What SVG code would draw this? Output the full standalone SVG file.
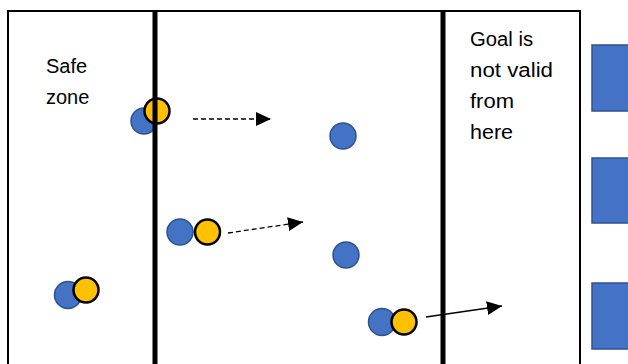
<svg xmlns="http://www.w3.org/2000/svg" width="628" height="364" viewBox="0 0 628 364">
  <style>
    .label { font-family: "Liberation Sans", Arial, sans-serif; font-size: 20px; fill: #000; }
    .blue { fill: #4472C4; stroke: #2F528F; stroke-width: 1.5; }
    .yellow { fill: #FFC000; stroke: #000; stroke-width: 2.5; }
    .wall { stroke: #000; stroke-width: 5; }
    .move { fill: none; stroke: #000; stroke-width: 1.3; marker-end: url(#head); }
    .dashed { stroke-dasharray: 5 3; }
  </style>
  <defs>
    <marker id="head" markerUnits="userSpaceOnUse" markerWidth="16" markerHeight="15" refX="15" refY="7" orient="auto">
      <path d="M0,0 L15,7 L0,14 Z" fill="#000" stroke="none"/>
    </marker>
  </defs>

  <rect width="628" height="364" fill="#fff"/>

  <!-- field outline (open at the bottom) -->
  <g id="field">
    <path d="M8,370 V11 H580 V370" fill="none" stroke="#000" stroke-width="2"/>
  </g>

  <!-- goals on the right edge -->
  <g id="goal-top"><rect class="blue" x="592" y="45" width="40" height="66"/></g>
  <g id="goal-middle"><rect class="blue" x="592" y="158" width="40" height="65"/></g>
  <g id="goal-bottom"><rect class="blue" x="592" y="283" width="40" height="66"/></g>

  <!-- zone labels -->
  <g id="safe-zone-label">
    <text class="label" x="46" y="73">Safe</text>
    <text class="label" x="46" y="104">zone</text>
  </g>
  <g id="invalid-zone-label">
    <text class="label" x="470" y="46" textLength="63" lengthAdjust="spacingAndGlyphs">Goal is</text>
    <text class="label" x="470" y="77" textLength="83" lengthAdjust="spacingAndGlyphs">not valid</text>
    <text class="label" x="470" y="108" textLength="44" lengthAdjust="spacingAndGlyphs">from</text>
    <text class="label" x="470" y="139" textLength="43" lengthAdjust="spacingAndGlyphs">here</text>
  </g>

  <!-- players -->
  <g id="pair-on-line">
    <circle class="blue" cx="144" cy="121" r="13"/>
    <circle class="yellow" cx="157" cy="111" r="12.5"/>
  </g>
  <g id="pair-middle">
    <circle class="blue" cx="180" cy="232" r="13"/>
    <circle class="yellow" cx="207.5" cy="232" r="12.5"/>
  </g>
  <g id="pair-safe">
    <circle class="blue" cx="68" cy="295" r="13.5"/>
    <circle class="yellow" cx="86" cy="290" r="12.5"/>
  </g>
  <g id="pair-bottom">
    <circle class="blue" cx="382" cy="322" r="13.5"/>
    <circle class="yellow" cx="404" cy="322" r="12.5"/>
  </g>
  <g id="defender-top"><circle class="blue" cx="343" cy="136" r="13"/></g>
  <g id="defender-middle"><circle class="blue" cx="346" cy="255" r="13"/></g>

  <!-- movement arrows -->
  <g id="connectors">
    <path class="move dashed" d="M193,119 L271,119"/>
    <path class="move dashed" d="M228,233 L303,222"/>
    <path class="move" d="M426,317 L502,306"/>
  </g>

  <!-- zone boundary lines -->
  <g id="boundaries">
    <line class="wall" x1="155" y1="11" x2="155" y2="364"/>
    <line class="wall" x1="443" y1="11" x2="443" y2="364"/>
  </g>
</svg>
